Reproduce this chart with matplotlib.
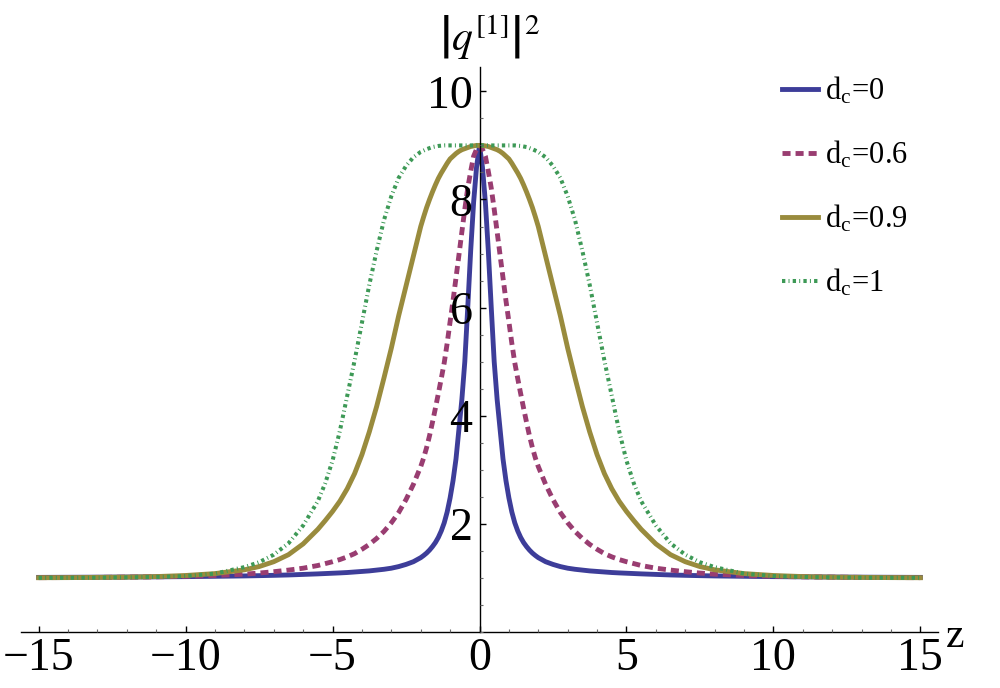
import matplotlib
matplotlib.use("Agg")
import matplotlib.pyplot as plt
from matplotlib.ticker import MultipleLocator
import numpy as np

plt.rcParams['font.family'] = ['Liberation Serif', 'DejaVu Serif']
plt.rcParams['mathtext.fontset'] = 'stix'
plt.rcParams['lines.scale_dashes'] = False

# right half of the curves (z >= 0); curves are symmetric in z
z_half = [0, 0.1, 0.2, 0.3, 0.4, 0.5, 0.6, 0.7, 0.8, 0.9, 1.0,
          1.1, 1.2, 1.3, 1.4, 1.5, 1.6, 1.7, 1.8, 1.9, 2.0,
          2.25, 2.5, 2.75, 3.0, 3.25, 3.5, 3.75, 4.0, 4.25, 4.5, 4.75, 5.0,
          5.25, 5.5, 6.0, 6.5, 7.0, 7.5, 8.0, 9.0, 10.0, 11.0, 12.0, 13.0, 14.0, 15.0]

q_d0 = [9.0, 8.6, 7.95, 7.05, 6.0, 5.0, 4.3, 3.75, 3.2, 2.8, 2.48,
        2.22, 2.02, 1.87, 1.75, 1.655, 1.58, 1.515, 1.46, 1.415, 1.375,
        1.30, 1.25, 1.21, 1.18, 1.16, 1.145, 1.13, 1.12, 1.11, 1.10, 1.093, 1.087,
        1.081, 1.075, 1.065, 1.055, 1.048, 1.042, 1.037, 1.030, 1.024, 1.020, 1.017, 1.014, 1.012, 1.010]

q_d06 = [9.0, 8.93, 8.8, 8.52, 8.21, 7.82, 7.4, 6.97, 6.55, 6.13, 5.74,
         5.34, 4.98, 4.69, 4.41, 4.14, 3.88, 3.63, 3.41, 3.22, 3.06,
         2.73, 2.45, 2.21, 2.02, 1.86, 1.73, 1.62, 1.53, 1.45, 1.39, 1.34, 1.30,
         1.265, 1.23, 1.18, 1.145, 1.115, 1.09, 1.07, 1.045, 1.03, 1.02, 1.015, 1.01, 1.007, 1.005]

q_d09 = [9.0, 9.0, 8.99, 8.98, 8.96, 8.94, 8.92, 8.89, 8.85, 8.80, 8.75,
         8.67, 8.58, 8.49, 8.39, 8.27, 8.14, 8.0, 7.85, 7.68, 7.50,
         6.95, 6.40, 5.85, 5.25, 4.70, 4.17, 3.70, 3.28, 2.93, 2.65, 2.42, 2.23,
         2.06, 1.90, 1.63, 1.43, 1.30, 1.21, 1.15, 1.08, 1.045, 1.025, 1.015, 1.01, 1.006, 1.004]

q_d1 = [9.0, 9.0, 9.0, 9.0, 9.0, 9.0, 9.0, 9.0, 9.0, 9.0, 9.0,
        9.0, 9.0, 8.995, 8.99, 8.98, 8.97, 8.95, 8.93, 8.905, 8.88,
        8.78, 8.62, 8.40, 8.06, 7.62, 7.05, 6.42, 5.72, 5.02, 4.37, 3.72, 3.17,
        2.75, 2.42, 1.97, 1.64, 1.43, 1.29, 1.20, 1.08, 1.035, 1.018, 1.01, 1.005, 1.003, 1.002]

labels = ['d$_\\mathregular{c}$=0', 'd$_\\mathregular{c}$=0.6',
          'd$_\\mathregular{c}$=0.9', 'd$_\\mathregular{c}$=1']
colors = ['#3d3d99', '#993d71', '#998b3d', '#3d9956']


def mirror(vals):
    v = np.asarray(vals, dtype=float)
    return np.concatenate([v[:0:-1], v])


z = np.concatenate([-np.asarray(z_half)[:0:-1], np.asarray(z_half)])

fig = plt.figure(figsize=(10, 6.88), dpi=100)
ax = fig.add_axes([0.021, 0.0814, 0.917, 0.8212])

ax.plot(z, mirror(q_d0), color=colors[0], lw=3.5, label=labels[0])
ax.plot(z, mirror(q_d06), color=colors[1], lw=3.5, linestyle=(0, (5.8, 3.6)), label=labels[1])
ax.plot(z, mirror(q_d09), color=colors[2], lw=3.5, label=labels[2])
ax.plot(z, mirror(q_d1), color=colors[3], lw=2.9, linestyle=(0, (2.4, 2.3, 0.7, 2.3)), label=labels[3])

ax.set_xlim(-15.6, 15.6)
ax.set_ylim(0, 10.45)

ax.spines['left'].set_position(('data', 0))
ax.spines['bottom'].set_position(('data', 0))
ax.spines['top'].set_visible(False)
ax.spines['right'].set_visible(False)
for s in ['left', 'bottom']:
    ax.spines[s].set_linewidth(1.0)

ax.set_xticks([-15, -10, -5, 0, 5, 10, 15])
ax.set_yticks([2, 4, 6, 8, 10])
ax.xaxis.set_minor_locator(MultipleLocator(1))
ax.yaxis.set_minor_locator(MultipleLocator(0.5))
ax.tick_params(which='major', direction='in', length=4.5, width=1, labelsize=33, pad=4)
ax.tick_params(which='minor', direction='in', length=2.5, width=0.8, color='#666666')
ax.tick_params(axis='y', which='major', pad=5)
ax.set_axisbelow(False)

fig.text(0.49, 0.946, r'$\left|q^{[1]}\right|^2$', fontsize=30, ha='center', va='center')
fig.text(0.955, 0.074, 'z', fontsize=30, ha='center', va='center')

ax.legend(loc='upper left', bbox_to_anchor=(0.782, 0.89), bbox_transform=fig.transFigure,
          frameon=False, fontsize=22, handlelength=1.18, handletextpad=0.23,
          labelspacing=1.07, borderpad=0, borderaxespad=0)

fig.savefig('out.png', dpi=100)
